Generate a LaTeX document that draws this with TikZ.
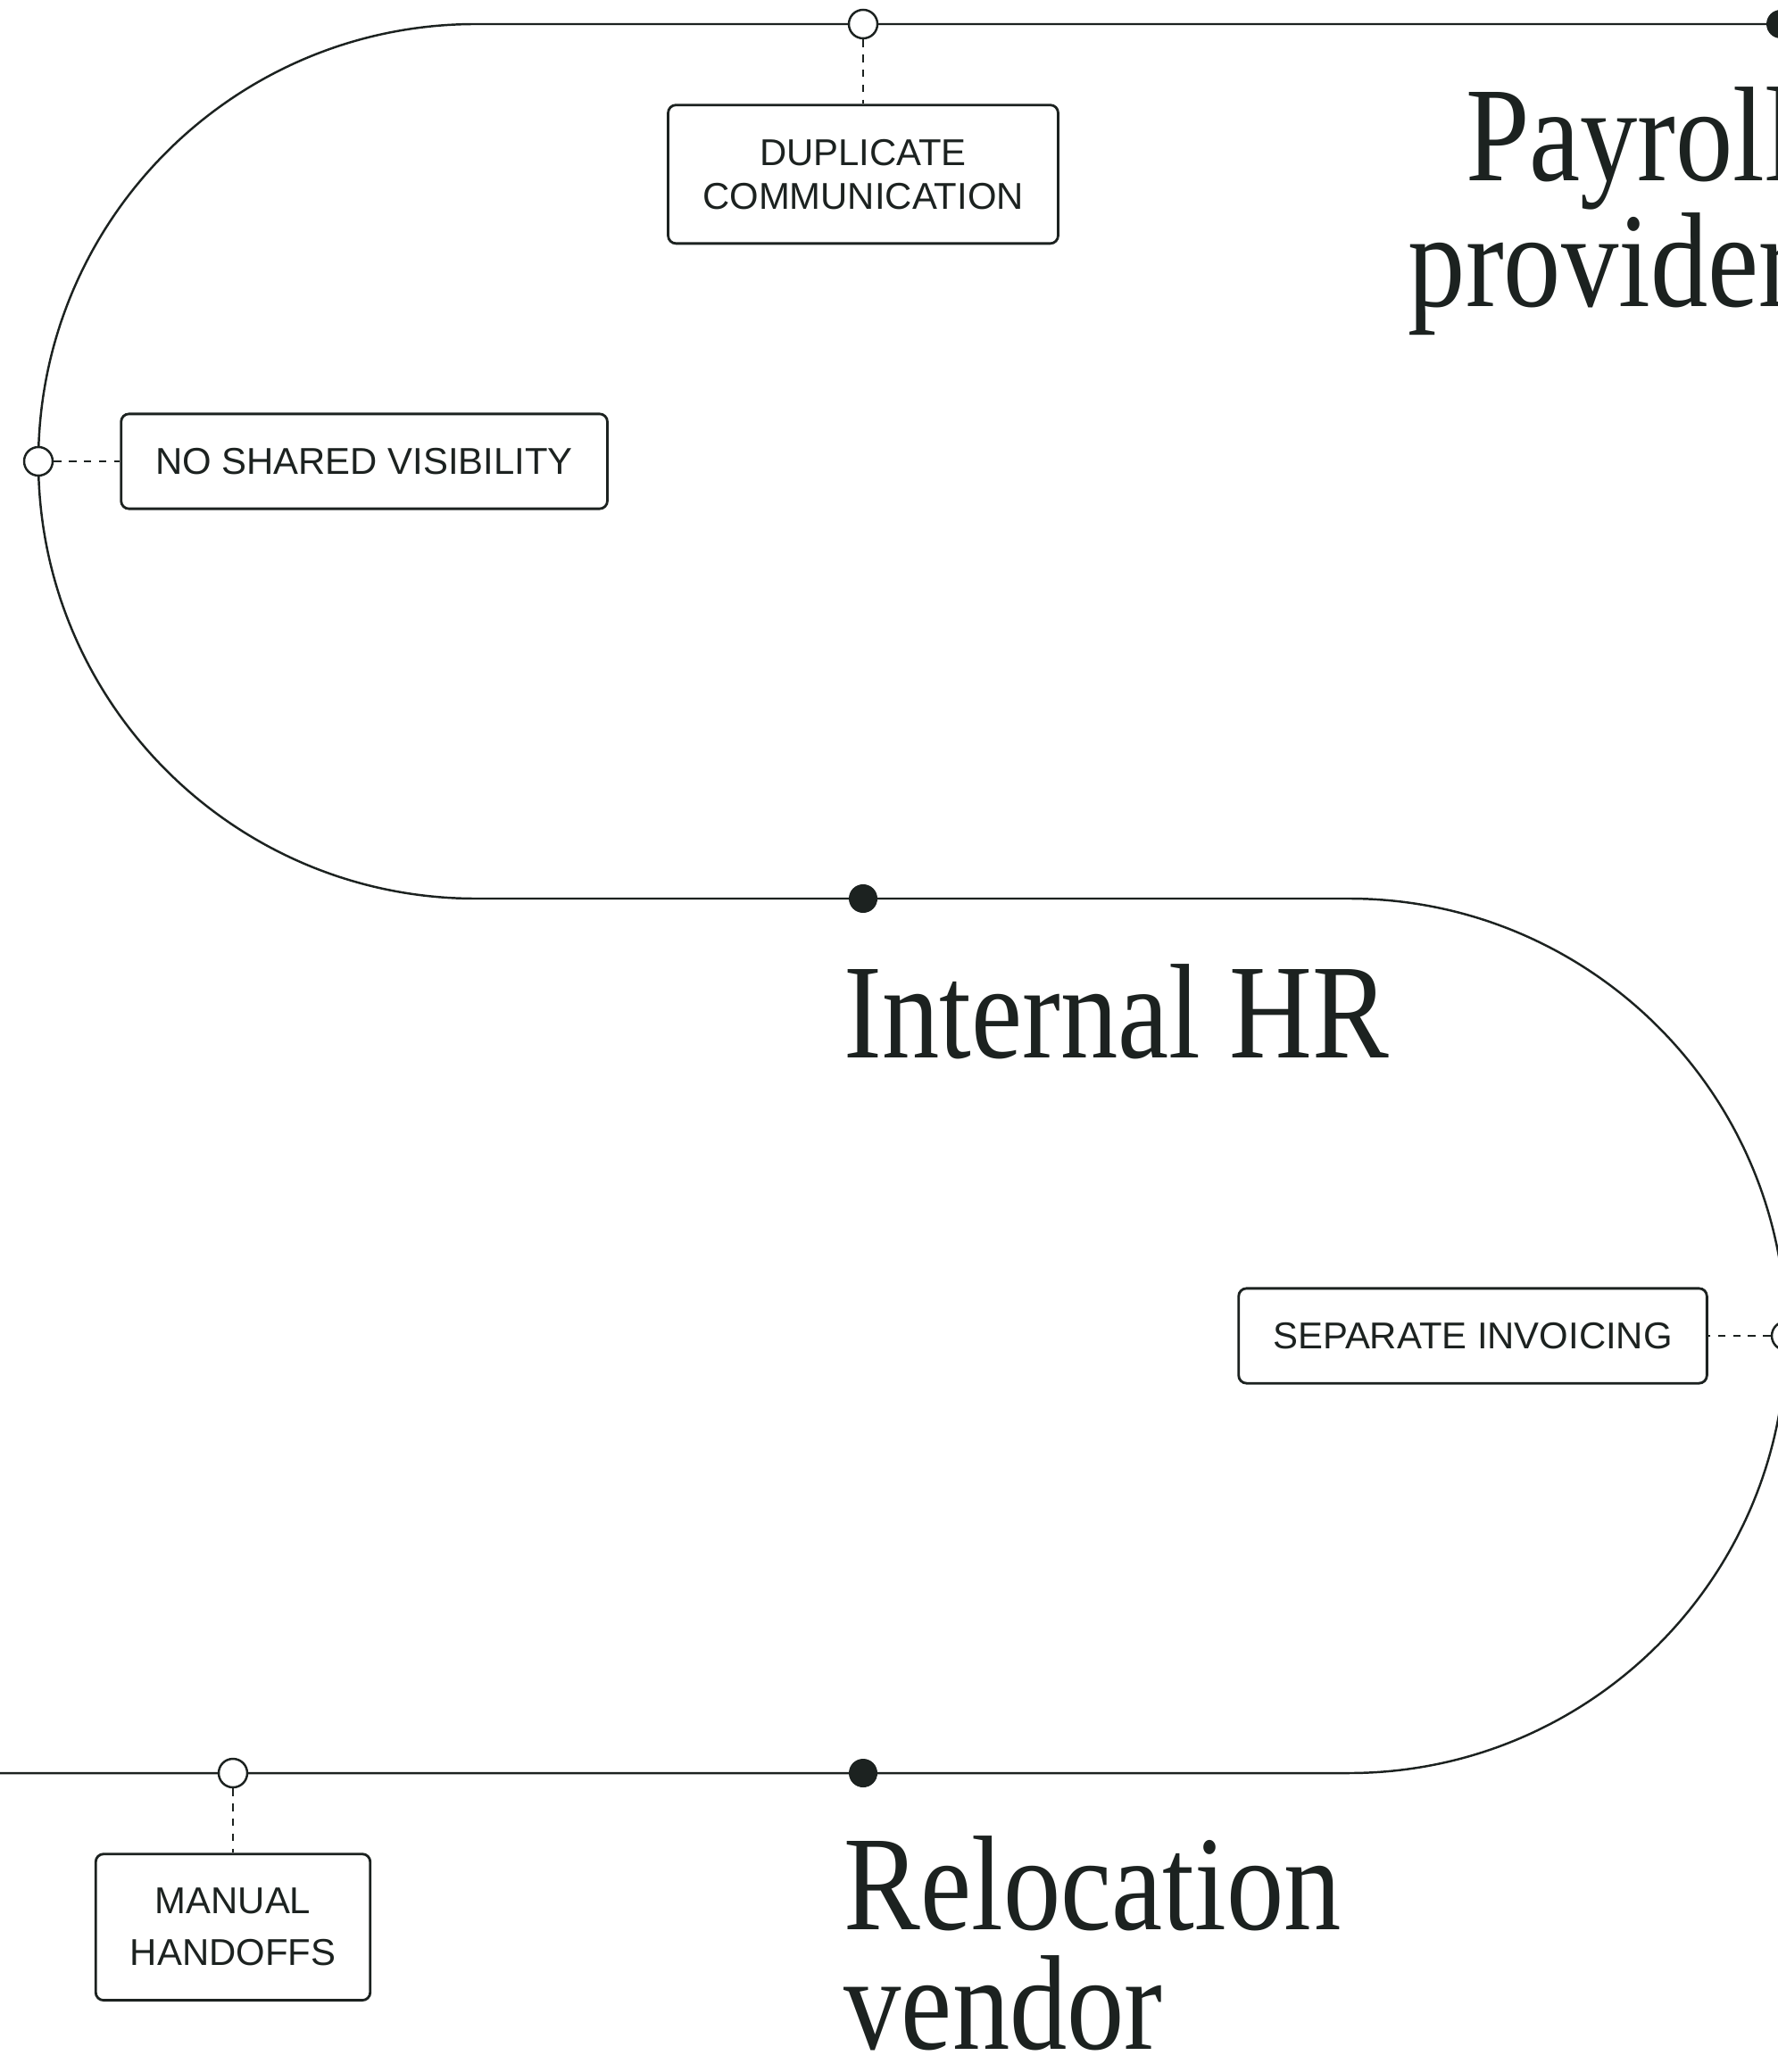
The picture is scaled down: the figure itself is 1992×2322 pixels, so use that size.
\documentclass[tikz,border=0pt]{standalone}
\usepackage{fontspec}
\setmainfont{Liberation Serif}
\newfontfamily\tagfont{Liberation Sans}
\newfontfamily\stagefont[FakeStretch=0.85]{Liberation Serif}
\usetikzlibrary{positioning}
\definecolor{ink}{HTML}{1C2220}

\tikzset{
  track/.style={ink, line width=0.7pt},
  opendot/.style={circle, draw=ink, fill=white, line width=0.7pt, minimum size=0.32cm, inner sep=0pt},
  fulldot/.style={circle, fill=ink, minimum size=0.32cm, inner sep=0pt},
  tagbox/.style={draw=ink, line width=0.8pt, rounded corners=2.5pt, fill=white, text=ink,
    font=\tagfont\fontsize{11.9}{13.9}\selectfont, align=center, inner xsep=11pt, inner ysep=10.9pt},
  tagline/.style={ink, line width=0.7pt, dash pattern=on 2.4pt off 2.4pt},
  stage/.style={text=ink, font=\stagefont\fontsize{43}{38}\selectfont, inner sep=0pt}
}

\begin{document}
\begin{tikzpicture}[x=0.01cm, y=-0.01cm]
    \useasboundingbox (0,0) rectangle (1992,2322);
    \clip (0,0) rectangle (1992,2322);

    % Track
    \draw[track] (2020,27) -- (533,27) arc[start angle=270, end angle=90, radius=490]
        -- (1511,1007) arc[start angle=270, end angle=450, radius=490] -- (-20,1987);

    % Stops on the track
    \node[fulldot] (paydot) at (1995,27) {};
    \node[opendot] (dupdot) at (967,27) {};
    \node[opendot] (visdot) at (43,517) {};
    \node[fulldot] (hrdot) at (967,1007) {};
    \node[opendot] (invdot) at (2001,1497) {};
    \node[opendot] (handdot) at (261,1987) {};
    \node[fulldot] (reldot) at (967,1987) {};

    % Problem tags
    \node[tagbox, below=0.72cm of dupdot] (dup) {DUPLICATE\\COMMUNICATION};
    \node[tagbox, right=0.74cm of visdot] (vis) {NO SHARED VISIBILITY};
    \node[tagbox, left=0.7cm of invdot] (inv) {SEPARATE INVOICING};
    \node[tagbox, font=\tagfont\fontsize{11.9}{16.5}\selectfont, below=0.72cm of handdot] (hand) {MANUAL\\HANDOFFS};
    \draw[tagline] (dupdot) -- (dup);
    \draw[tagline] (visdot) -- (vis);
    \draw[tagline] (invdot) -- (inv);
    \draw[tagline] (handdot) -- (hand);

    % Parties
    \node[stage, anchor=base east, align=right] (pay) at (2014,344) {Payroll\\provider};
    \node[stage, anchor=base west] (hr) at (945,1185) {Internal HR};
    \node[stage, anchor=base west, align=left] (rel) at (945,2296) {Relocation\\vendor};
\end{tikzpicture}
\end{document}
